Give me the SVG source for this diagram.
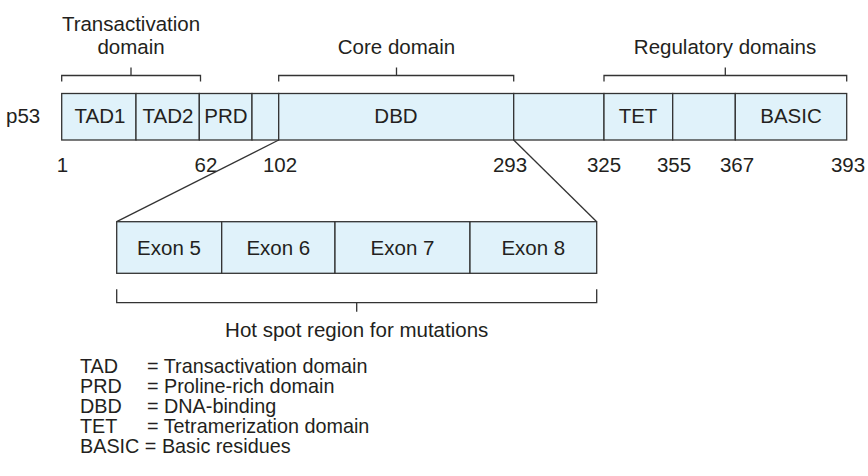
<svg xmlns="http://www.w3.org/2000/svg" width="868" height="476" viewBox="0 0 868 476">
<style>
  text { font-family: "Liberation Sans", Arial, sans-serif; font-size: 20.5px; fill: #231f20; }
  .c { text-anchor: middle; }
  .lg { font-size: 19.8px; }
  .box { fill: #e0f2fa; stroke: #333; stroke-width: 1.3; }
  .ln { fill: none; stroke: #333; stroke-width: 1.3; }
</style>
<rect width="868" height="476" fill="#fff"/>

<g id="labels-top">
  <text class="c" x="131" y="30.5">Transactivation</text>
  <text class="c" x="131" y="53.5">domain</text>
  <text class="c" x="396.5" y="53.5">Core domain</text>
  <text class="c" x="725" y="53.5">Regulatory domains</text>
  <path class="ln" d="M61.7,81.5 V75.5 H200.5 V81.5 M131,75.5 V67.5"/>
  <path class="ln" d="M278.7,81.5 V75.5 H513.7 V81.5 M396.5,75.5 V67.5"/>
  <path class="ln" d="M604,81.5 V75.5 H846.7 V81.5 M725.3,75.5 V67.5"/>
</g>

<g id="p53">
  <text x="6" y="123">p53</text>
  <g id="TAD1"><rect class="box" x="61.7" y="93.5" width="74.3" height="46.5"/><text class="c" x="100" y="123">TAD1</text></g>
  <g id="TAD2"><rect class="box" x="136" y="93.5" width="63.3" height="46.5"/><text class="c" x="168" y="123">TAD2</text></g>
  <g id="PRD"><rect class="box" x="199.3" y="93.5" width="52.7" height="46.5"/><text class="c" x="226" y="123">PRD</text></g>
  <g id="gap1"><rect class="box" x="252" y="93.5" width="26.7" height="46.5"/></g>
  <g id="DBD"><rect class="box" x="278.7" y="93.5" width="235" height="46.5"/><text class="c" x="396" y="123">DBD</text></g>
  <g id="gap2"><rect class="box" x="513.7" y="93.5" width="90.3" height="46.5"/></g>
  <g id="TET"><rect class="box" x="604" y="93.5" width="68.7" height="46.5"/><text class="c" x="638" y="123">TET</text></g>
  <g id="gap3"><rect class="box" x="672.7" y="93.5" width="62.6" height="46.5"/></g>
  <g id="BASIC"><rect class="box" x="735.3" y="93.5" width="111.4" height="46.5"/><text class="c" x="791" y="123">BASIC</text></g>
</g>

<g id="numbers">
  <text class="c" x="62.5" y="172">1</text>
  <text class="c" x="206" y="172">62</text>
  <text class="c" x="280" y="172">102</text>
  <text class="c" x="510" y="172">293</text>
  <text class="c" x="604" y="172">325</text>
  <text class="c" x="674" y="172">355</text>
  <text class="c" x="737" y="172">367</text>
  <text class="c" x="848" y="172">393</text>
</g>

<g id="connectors">
  <line class="ln" x1="278.7" y1="140" x2="116.7" y2="221.7"/>
  <line class="ln" x1="513.7" y1="140" x2="596.7" y2="221.7"/>
</g>

<g id="exons">
  <g id="exon5"><rect class="box" x="116.7" y="221.7" width="105" height="51.6"/><text class="c" x="169" y="254.5">Exon 5</text></g>
  <g id="exon6"><rect class="box" x="221.7" y="221.7" width="113.3" height="51.6"/><text class="c" x="278.3" y="254.5">Exon 6</text></g>
  <g id="exon7"><rect class="box" x="335" y="221.7" width="135" height="51.6"/><text class="c" x="402.5" y="254.5">Exon 7</text></g>
  <g id="exon8"><rect class="box" x="470" y="221.7" width="126.7" height="51.6"/><text class="c" x="533.3" y="254.5">Exon 8</text></g>
</g>

<g id="hotspot">
  <path class="ln" d="M116.7,289.3 V302.7 H596.7 V289.3 M356.7,302.7 V311.7"/>
  <text class="c" x="356.7" y="336.5">Hot spot region for mutations</text>
</g>

<g id="legend" class="lg">
  <text class="lg" x="80" y="373">TAD</text><text class="lg" x="147" y="373">= Transactivation domain</text>
  <text class="lg" x="80" y="393">PRD</text><text class="lg" x="147" y="393">= Proline-rich domain</text>
  <text class="lg" x="80" y="413">DBD</text><text class="lg" x="147" y="413">= DNA-binding</text>
  <text class="lg" x="80" y="433">TET</text><text class="lg" x="147" y="433">= Tetramerization domain</text>
  <text class="lg" x="80" y="453">BASIC = Basic residues</text>
</g>
</svg>
